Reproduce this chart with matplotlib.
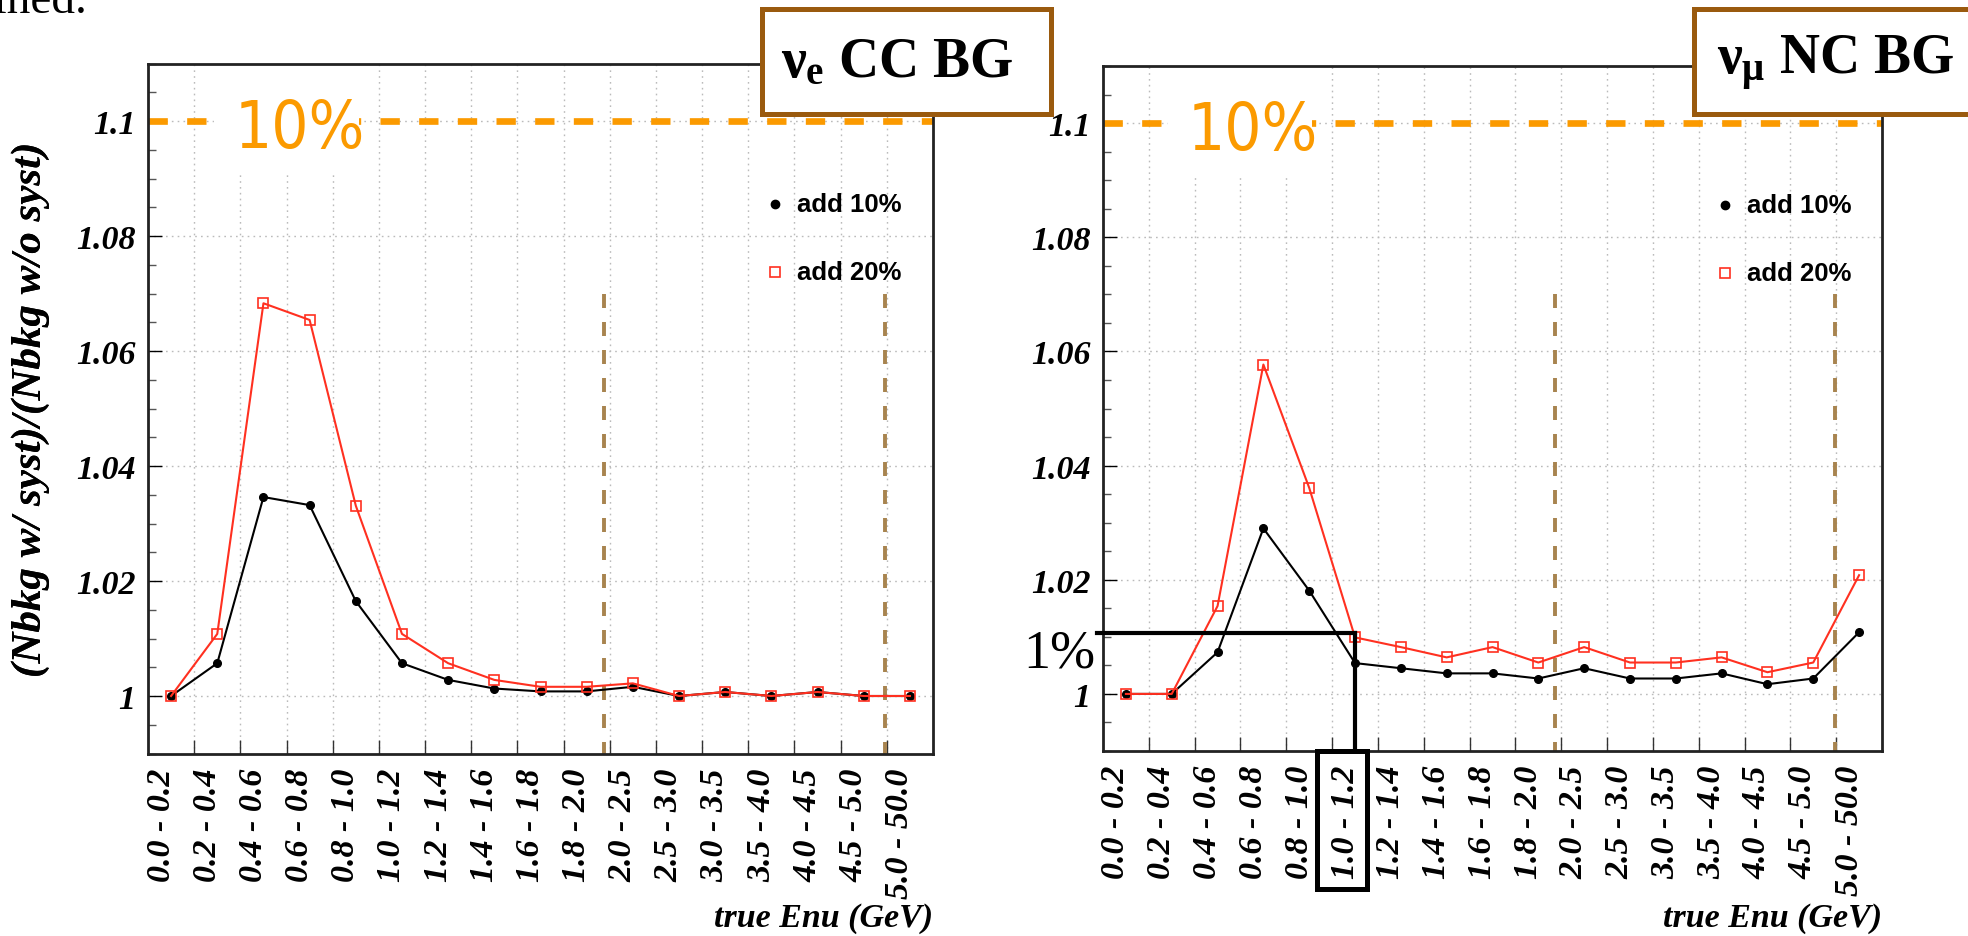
import numpy as np
import matplotlib
matplotlib.use("Agg")
import matplotlib.pyplot as plt
import matplotlib.transforms as mtransforms
from matplotlib import font_manager
from matplotlib.patches import Rectangle
from matplotlib.ticker import FixedLocator, MultipleLocator

plt.rcParams['mathtext.fontset'] = 'custom'
plt.rcParams['mathtext.rm'] = 'Liberation Serif:bold'
plt.rcParams['mathtext.it'] = 'Liberation Serif:bold'
plt.rcParams['mathtext.bf'] = 'Liberation Serif:bold'

# ---------------- data ----------------
bins = ["0.0 - 0.2", "0.2 - 0.4", "0.4 - 0.6", "0.6 - 0.8", "0.8 - 1.0",
        "1.0 - 1.2", "1.2 - 1.4", "1.4 - 1.6", "1.6 - 1.8", "1.8 - 2.0",
        "2.0 - 2.5", "2.5 - 3.0", "3.0 - 3.5", "3.5 - 4.0", "4.0 - 4.5",
        "4.5 - 5.0", "5.0 - 50.0"]

nue_cc_add10 = [1.0000, 1.0057, 1.0346, 1.0332, 1.0165, 1.0057, 1.0028, 1.0013, 1.0008,
                1.0008, 1.0016, 1.0000, 1.0007, 1.0000, 1.0007, 1.0000, 1.0000]
nue_cc_add20 = [1.0000, 1.0108, 1.0683, 1.0654, 1.0331, 1.0108, 1.0057, 1.0028, 1.0016,
                1.0016, 1.0022, 1.0000, 1.0007, 1.0000, 1.0007, 1.0000, 1.0000]

numu_nc_add10 = [1.0000, 1.0000, 1.0073, 1.0290, 1.0181, 1.0054, 1.0045, 1.0036, 1.0036,
                 1.0027, 1.0045, 1.0027, 1.0027, 1.0036, 1.0017, 1.0027, 1.0108]
numu_nc_add20 = [1.0000, 1.0000, 1.0154, 1.0577, 1.0361, 1.0099, 1.0082, 1.0064, 1.0082,
                 1.0055, 1.0082, 1.0055, 1.0055, 1.0064, 1.0038, 1.0055, 1.0208]

yticks = [1.0, 1.02, 1.04, 1.06, 1.08, 1.1]
yticklabels = ["1", "1.02", "1.04", "1.06", "1.08", "1.1"]
ylim = (0.99, 1.11)
ten_percent_level = 1.1
one_percent_level = 1.0107
one_percent_bin = 5
region_lines = [9.37, 15.47]
region_top = 1.07

# ---------------- fonts ----------------
narrow = None
for f in font_manager.fontManager.ttflist:
    if f.name == 'Liberation Sans Narrow':
        narrow = dict(family='Liberation Sans Narrow', fontsize=48)
        break
if narrow is None:
    for f in font_manager.fontManager.ttflist:
        if f.name in ('DejaVu Sans', 'Noto Sans', 'Open Sans', 'Roboto') and \
                'condensed' in str(f.stretch) and f.weight in (400, 'normal', 'regular'):
            narrow = dict(family=f.name, fontstretch=f.stretch, fontsize=47)
            break
if narrow is None:
    narrow = dict(family='Liberation Sans', fontsize=42)

# ---------------- style ----------------
W, H = 1968, 937
fig = plt.figure(figsize=(W / 100, H / 100), dpi=100)

ORANGE = '#fb9a00'
RED = '#ff3020'
BROWN = '#a8844f'
BOXC = '#9a5a0e'
serif_bi = dict(family='Liberation Serif', weight='bold', style='italic')

panels = [
    dict(title=r'$\nu_\mathrm{e}$ CC BG', a10=nue_cc_add10, a20=nue_cc_add20,
         px=(148, 933, 64.5, 754.5), box=(762, 1051), tcx=897, onepct=False),
    dict(title=r'$\nu_\mu$ NC BG', a10=numu_nc_add10, a20=numu_nc_add20,
         px=(1103, 1882, 67, 752), box=(1694, 1983), tcx=1835, onepct=True),
]

for p in panels:
    l, r, t, b = p['px']
    ax = fig.add_axes([l / W, 1 - b / H, (r - l) / W, (b - t) / H])
    x = np.arange(len(bins))
    ax.set_xlim(-0.5, len(bins) - 0.5)
    ax.set_ylim(*ylim)
    ax.set_axisbelow(True)

    # ticks
    ax.set_xticks(x)
    ax.set_xticklabels(bins, rotation=90, fontsize=24.5, va='top', ha='center', **serif_bi)
    ax.xaxis.set_minor_locator(FixedLocator(np.arange(0.5, len(bins) - 1, 1.0)))
    ax.tick_params(axis='x', which='major', length=0, pad=10)
    ax.tick_params(axis='x', which='minor', direction='in', length=10, width=1, color='#333333')
    off = mtransforms.ScaledTranslation(-10 / 100, 0, fig.dpi_scale_trans)
    for lab in ax.get_xticklabels():
        lab.set_transform(lab.get_transform() + off)

    ax.set_yticks(yticks)
    ax.set_yticklabels(yticklabels, fontsize=24.5, **serif_bi)
    ax.yaxis.set_minor_locator(MultipleLocator(0.005))
    ax.tick_params(axis='y', which='major', direction='in', length=10, width=1, pad=9)
    ax.tick_params(axis='y', which='minor', direction='in', length=6, width=1, color='#555555')

    ax.grid(which='minor', axis='x', color='#bbbbbb', lw=1.0, linestyle=(0, (1.2, 3)))
    ax.grid(which='major', axis='y', color='#bbbbbb', lw=1.0, linestyle=(0, (1.2, 3)))

    for s in ax.spines.values():
        s.set_linewidth(2.0)
        s.set_color('#222222')
        s.set_zorder(7)

    # 10% line and label
    ax.axhline(ten_percent_level, color=ORANGE, lw=4.8, linestyle=(0, (2.9, 2.9)), zorder=2)
    ax.add_patch(Rectangle((0.92, 1.091), 4.07 - 0.92, 1.1098 - 1.091,
                           facecolor='white', edgecolor='none', zorder=3))
    ax.text(2.78, 1.0955, '10%', color=ORANGE, ha='center', va='baseline', zorder=4,
            **narrow)

    # energy-region markers
    for xv in region_lines:
        ax.plot([xv, xv], [region_top, ylim[0]], color=BROWN, lw=2.8,
                linestyle=(0, (3.6, 3.6)), zorder=4)

    # data
    ax.plot(x, p['a10'], color='black', lw=1.5, marker='o', ms=5.5, zorder=5)
    ax.plot(x, p['a20'], color=RED, lw=1.5, marker='s', ms=7, mfc='none',
            mec=RED, mew=1.2, zorder=6)

    # legend
    ax.plot([0.7987], [0.7964], transform=ax.transAxes, marker='o', color='black',
            ms=6, ls='none')
    ax.plot([0.7987], [0.6978], transform=ax.transAxes, marker='s', mfc='none',
            mec=RED, mew=1.2, ms=7.5, ls='none')
    ax.text(0.8268, 0.7964, 'add 10%', transform=ax.transAxes, va='center', ha='left',
            fontsize=18.5, family='Liberation Sans', weight='bold')
    ax.text(0.8268, 0.6978, 'add 20%', transform=ax.transAxes, va='center', ha='left',
            fontsize=18.5, family='Liberation Sans', weight='bold')

    # axis labels
    ax.set_ylabel('(Nbkg w/ syst)/(Nbkg w/o syst)', fontsize=31, **serif_bi)
    ax.yaxis.set_label_coords((50 - l) / (r - l), 0.5)
    ax.set_xlabel('true Enu (GeV)', loc='right', fontsize=24.5, **serif_bi)
    ax.xaxis.label.set_va('baseline')
    ax.xaxis.set_label_coords(1.0, (b - 927) / (b - t))

    # title box
    bx0, bx1 = p['box']
    fig.add_artist(Rectangle((bx0 / W, 1 - 115 / H), (bx1 - bx0) / W, 105 / H,
                             transform=fig.transFigure, facecolor='white',
                             edgecolor=BOXC, lw=3.6, zorder=5, clip_on=False))
    fig.text(p['tcx'] / W, 1 - 63 / H, p['title'], ha='center', va='center',
             fontsize=40, family='Liberation Serif', weight='bold', zorder=6)

    # 1% annotation
    if p['onepct']:
        ax.plot([-0.63, one_percent_bin], [one_percent_level, one_percent_level],
                color='black', lw=3.0, clip_on=False, zorder=8, solid_capstyle='projecting')
        ax.plot([one_percent_bin, one_percent_bin], [one_percent_level, ylim[0]],
                color='black', lw=3.0, clip_on=False, zorder=8)
        btr = mtransforms.blended_transform_factory(ax.transData, ax.transAxes)
        ax.add_patch(Rectangle((4.18, -0.202), 5.27 - 4.18, 0.202, transform=btr,
                               facecolor='none', edgecolor='black', lw=3.6,
                               clip_on=False, zorder=8))
        fig.text(1095 / W, 1 - 667 / H, '1%', ha='right', va='baseline',
                 fontsize=39, family='Liberation Serif')

# clipped text from page above
fig.text(87 / W, 1 - 13 / H, 'defined.', ha='right', va='baseline', fontsize=34,
         family='Liberation Serif')

fig.savefig('out.png', dpi=100)
